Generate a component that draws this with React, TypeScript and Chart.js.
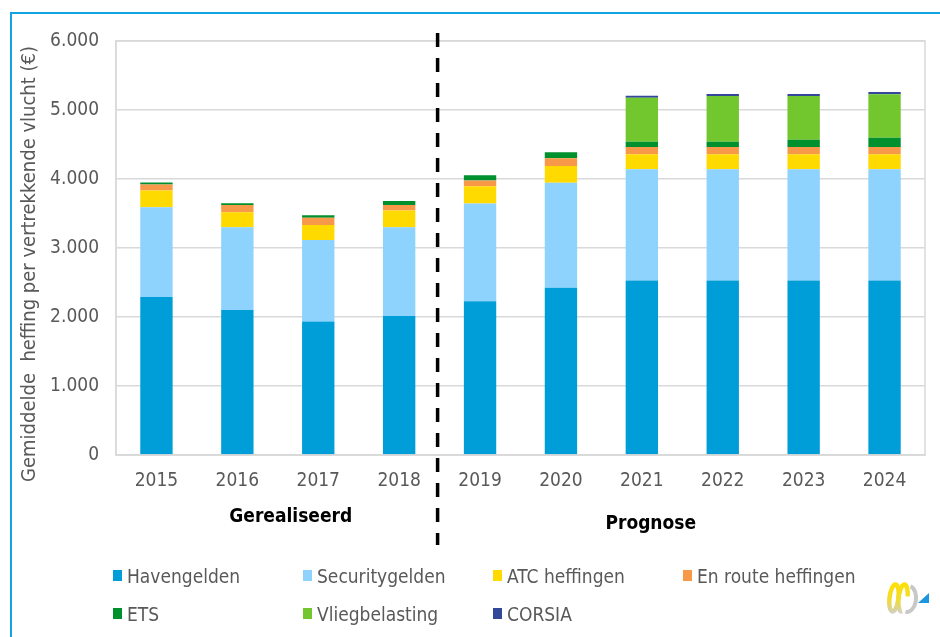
import React, { useEffect, useRef } from 'react';
import { Chart, registerables } from 'chart.js';

Chart.register(...registerables);

const years = ['2015', '2016', '2017', '2018', '2019', '2020', '2021', '2022', '2023', '2024'];
const havengelden = [2290, 2100, 1935, 2015, 2230, 2425, 2530, 2530, 2530, 2530];
const securitygelden = [1300, 1200, 1180, 1285, 1415, 1520, 1610, 1610, 1610, 1610];
const atcHeffingen = [245, 218, 218, 245, 250, 245, 218, 218, 218, 218];
const enRouteHeffingen = [85, 105, 107, 78, 83, 110, 106, 106, 106, 106];
const ets = [30, 25, 33, 58, 77, 88, 77, 77, 106, 135];
const vliegbelasting = [0, 0, 0, 0, 0, 0, 638, 662, 633, 628];
const corsia = [0, 0, 0, 0, 0, 0, 29, 29, 29, 33];

const seriesNames = ['Havengelden', 'Securitygelden', 'ATC heffingen', 'En route heffingen', 'ETS', 'Vliegbelasting', 'CORSIA'];
const seriesColors = ['#009ed8', '#8ed2fe', '#ffda00', '#f8994a', '#00902e', '#72c72e', '#34489a'];
const seriesData = [havengelden, securitygelden, atcHeffingen, enRouteHeffingen, ets, vliegbelasting, corsia];

const yTitle = 'Gemiddelde  heffing per vertrekkende vlucht (€)';
const groupLabels = ['Gerealiseerd', 'Prognose'];
const groupPositions = [1.66, 6.11];
const dividerPosition = 3.5;

const FONT = "'DejaVu Sans Condensed', 'DejaVu Sans', sans-serif";
const TEXT = '#595959';
const GRID = '#d9d9d9';

function formatNL(v: number): string {
  return String(v).replace(/\B(?=(\d{3})+(?!\d))/g, '.');
}

const decorPlugin = {
  id: 'decor',
  afterDraw(chart: any) {
    const { ctx, chartArea } = chart;
    const xs = chart.scales.x;
    const { left, right, top, bottom } = chartArea;
    ctx.save();

    // plot frame
    ctx.strokeStyle = GRID;
    ctx.lineWidth = 1.5;
    ctx.strokeRect(left, top, right - left, bottom - top);

    // dashed divider
    const dx = xs.getPixelForValue(dividerPosition) - 2;
    ctx.strokeStyle = '#000';
    ctx.lineWidth = 3.5;
    ctx.setLineDash([14, 11]);
    ctx.beginPath();
    ctx.moveTo(dx, top - 8);
    ctx.lineTo(dx, bottom + 90);
    ctx.stroke();
    ctx.setLineDash([]);

    // group labels
    ctx.fillStyle = '#000';
    ctx.font = `bold 19px ${FONT}`;
    ctx.textAlign = 'center';
    ctx.textBaseline = 'alphabetic';
    ctx.fillText(groupLabels[0], xs.getPixelForValue(groupPositions[0]), bottom + 67);
    ctx.fillText(groupLabels[1], xs.getPixelForValue(groupPositions[1]), bottom + 74);

    // y title
    ctx.save();
    ctx.translate(30, (top + bottom) / 2 + 16);
    ctx.rotate(-Math.PI / 2);
    ctx.fillStyle = TEXT;
    ctx.font = `20px ${FONT}`;
    ctx.textAlign = 'center';
    ctx.textBaseline = 'middle';
    ctx.fillText(yTitle, 0, 0);
    ctx.restore();

    // legend
    ctx.font = `19px ${FONT}`;
    ctx.textAlign = 'left';
    ctx.textBaseline = 'alphabetic';
    chart.data.datasets.forEach((ds: any, i: number) => {
      const col = i % 4;
      const row = Math.floor(i / 4);
      const mx = left - 3 + col * 190;
      const by = bottom + 128 + row * 38;
      ctx.fillStyle = ds.backgroundColor;
      ctx.fillRect(mx, by - 13, 9, 11);
      ctx.fillStyle = TEXT;
      ctx.fillText(ds.label, mx + 14, by);
    });

    // logo
    const lx = 888;
    const ly = 582;
    const grad = ctx.createLinearGradient(0, ly, 0, ly + 32);
    grad.addColorStop(0, '#ffe000');
    grad.addColorStop(0.55, '#f0dc30');
    grad.addColorStop(1, '#cfcfcf');
    ctx.lineWidth = 4.5;
    ctx.strokeStyle = grad;
    ctx.beginPath();
    ctx.ellipse(lx + 6, ly + 16, 4.5, 13.5, 0.12, 0, Math.PI * 2);
    ctx.stroke();
    ctx.beginPath();
    ctx.ellipse(lx + 15, ly + 16, 4.5, 13.5, 0.12, Math.PI * 0.45, Math.PI * 1.95);
    ctx.stroke();
    ctx.strokeStyle = '#c8c8c8';
    ctx.lineWidth = 4;
    ctx.beginPath();
    ctx.ellipse(lx + 20, ly + 17, 8, 13, 0.1, -Math.PI * 0.45, Math.PI * 0.55);
    ctx.stroke();
    ctx.fillStyle = '#1c96e0';
    ctx.beginPath();
    ctx.moveTo(lx + 30, ly + 21);
    ctx.lineTo(lx + 41, ly + 21);
    ctx.lineTo(lx + 41, ly + 11);
    ctx.closePath();
    ctx.fill();

    ctx.restore();
  },
};

function StackedChart() {
  const ref = useRef<HTMLCanvasElement | null>(null);
  useEffect(() => {
    if (!ref.current) return;
    const chart = new Chart(ref.current, {
      type: 'bar',
      data: {
        labels: years,
        datasets: seriesNames.map((name, i) => ({
          label: name,
          data: seriesData[i],
          backgroundColor: seriesColors[i],
          borderWidth: 0,
          barPercentage: 0.4,
          categoryPercentage: 1,
        })),
      },
      options: {
        animation: false,
        responsive: false,
        devicePixelRatio: 1,
        layout: { padding: { top: 41, right: 15, left: 0, bottom: 0 } },
        plugins: { legend: { display: false }, tooltip: { enabled: false } },
        scales: {
          x: {
            stacked: true,
            grid: { display: false, drawTicks: false },
            border: { display: true, color: GRID, width: 1.5 },
            ticks: { color: TEXT, font: { family: FONT, size: 19 }, padding: 15, maxRotation: 0 },
            afterFit: (s: any) => { s.height = 182; },
          },
          y: {
            stacked: true,
            min: 0,
            max: 6000,
            ticks: {
              stepSize: 1000,
              color: TEXT,
              font: { family: FONT, size: 19 },
              padding: 17,
              callback: (v: any) => formatNL(Number(v)),
            },
            grid: { color: GRID, lineWidth: 1.5, drawTicks: false },
            border: { display: true, color: GRID, width: 1.5 },
            afterFit: (s: any) => { s.width = 116; },
          },
        },
      },
      plugins: [decorPlugin],
    });
    return () => chart.destroy();
  }, []);
  return <canvas ref={ref} width={940} height={637} style={{ position: 'absolute', left: 0, top: 0 }} />;
}

export default function App() {
  return (
    <div style={{ position: 'fixed', left: 0, top: 0, width: 940, height: 637, overflow: 'hidden', background: '#fff' }}>
      <div style={{ position: 'absolute', left: 10, top: 12, width: 1200, height: 1200, borderLeft: '2px solid #12a3e3', borderTop: '2px solid #12a3e3' }} />
      <StackedChart />
    </div>
  );
}
